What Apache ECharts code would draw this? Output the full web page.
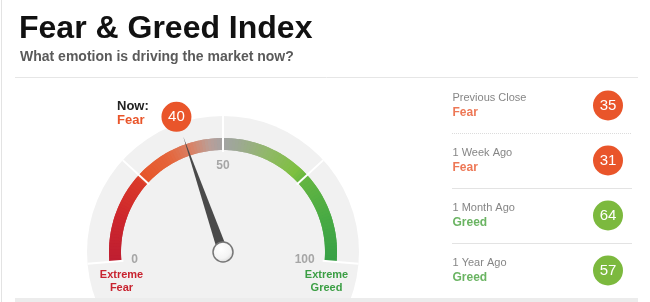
<!DOCTYPE html>
<html><head><meta charset="utf-8">
<script src="https://cdn.jsdelivr.net/npm/echarts@6/dist/echarts.min.js"></script>
<style>html,body{margin:0;padding:0;background:#fff}#c{width:650px;height:302px}</style>
</head><body><div id="c"></div>
<script>
// ---- data ----
const gaugeMin = 0;
const gaugeMax = 100;
const gaugeTicks = [0, 50, 100];
const nowValue = 40;
const nowRating = 'Fear';
const historyLabels = ['Previous Close', '1 Week Ago', '1 Month Ago', '1 Year Ago'];
const historyValues = [35, 31, 64, 57];
const historyRatings = ['Fear', 'Fear', 'Greed', 'Greed'];

// ---- styling ----
const FONT = '"Liberation Sans", Arial, Helvetica, sans-serif';
const FEAR_C = '#e9552a';
const GREED_TXT = '#45a13b';
const GREED_C = '#7cb93e';
const CX = 223, CY = 252, R = 114, START = 185, END = -5;

// band gradient stops (styling)
const bandStops = [[0,'#bf1e31'],[12,'#cd272d'],[24,'#da3a2a'],[25.5,'#e6572b'],[34,'#e5643a'],[41,'#d98266'],[46,'#bc9e96'],[50,'#a3a3a3'],[54,'#9ea895'],[62,'#92b76c'],[72,'#7ec040'],[75.5,'#64b542'],[88,'#48aa44'],[100,'#37a046']];
function hex(c){return [parseInt(c.substr(1,2),16),parseInt(c.substr(3,2),16),parseInt(c.substr(5,2),16)];}
function colAt(v){
  v = Math.max(0, Math.min(100, v));
  for (let i=0;i<bandStops.length-1;i++){
    const a=bandStops[i], b=bandStops[i+1];
    if (v>=a[0] && v<=b[0]){
      const t=(v-a[0])/(b[0]-a[0]); const ca=hex(a[1]), cb=hex(b[1]);
      return 'rgb('+ca.map((x,k)=>Math.round(x+(cb[k]-x)*t)).join(',')+')';
    }
  }
  return bandStops[bandStops.length-1][1];
}
const N = 120;
const bandColors = [];
for (let i=1;i<=N;i++){ bandColors.push([i/N, colAt((i-0.5)/N*100)]); }
// underlay with shifted segment boundaries (hides anti-alias seams)
const bandColors2 = [];
for (let i=1;i<=N;i++){ const e=Math.min(1,(i+0.5)/N); bandColors2.push([e, colAt(((i-0.5)/N)*100)]); }
bandColors2.push([1, colAt(100)]);

// bubble placement along the needle direction
const ang = (START - (nowValue - gaugeMin)/(gaugeMax - gaugeMin)*(START - END)) * Math.PI/180;
const bubbleR = 143;
const bubbleOffset = [bubbleR*Math.cos(ang), -bubbleR*Math.sin(ang)];

const chart = echarts.init(document.getElementById('c'), null, {renderer:'canvas'});

const graphics = [
  {type:'line', shape:{x1:1.5,y1:0,x2:1.5,y2:302}, style:{stroke:'#e3e3e3',lineWidth:1}},
  {type:'line', shape:{x1:15,y1:77.5,x2:638,y2:77.5}, style:{stroke:'#e6e6e6',lineWidth:1}},
  {type:'text', x:19, y:29, style:{text:'Fear & Greed Index', font:'bold 32px '+FONT, fill:'#111', verticalAlign:'middle', align:'left'}},
  {type:'text', x:20, y:57, style:{text:'What emotion is driving the market now?', font:'bold 14px '+FONT, fill:'#5a5a5a', verticalAlign:'middle', align:'left'}},
  {type:'circle', z:-10, shape:{cx:CX, cy:CY, r:136}, style:{fill:'#f1f1f1'}},
  {type:'rect', z:50, shape:{x:15,y:298,width:623,height:4}, style:{fill:'#ececec'}},
  {type:'text', x:117, y:106, style:{text:'Now:', font:'bold 13px '+FONT, fill:'#222', verticalAlign:'middle', align:'left'}},
  {type:'text', x:117, y:120.5, style:{text:nowRating, font:'bold 13px '+FONT, fill:FEAR_C, verticalAlign:'middle', align:'left'}},
  {type:'text', x:121.5, y:275, style:{text:'Extreme', font:'bold 11px '+FONT, fill:'#c8232f', verticalAlign:'middle', align:'center'}},
  {type:'text', x:121.5, y:288, style:{text:'Fear', font:'bold 11px '+FONT, fill:'#c8232f', verticalAlign:'middle', align:'center'}},
  {type:'text', x:326.5, y:275, style:{text:'Extreme', font:'bold 11px '+FONT, fill:'#3b9e44', verticalAlign:'middle', align:'center'}},
  {type:'text', x:326.5, y:288, style:{text:'Greed', font:'bold 11px '+FONT, fill:'#3b9e44', verticalAlign:'middle', align:'center'}},
  {type:'line', shape:{x1:452,y1:133.5,x2:632,y2:133.5}, style:{stroke:'#dcdcdc',lineWidth:1,lineDash:[1,1]}},
  {type:'line', shape:{x1:452,y1:188.5,x2:632,y2:188.5}, style:{stroke:'#e3e3e3',lineWidth:1}},
  {type:'line', shape:{x1:452,y1:243.5,x2:632,y2:243.5}, style:{stroke:'#e3e3e3',lineWidth:1}}
];

const option = {
  animation:false,
  graphic: graphics,
  grid:{left:452, top:78, width:156, height:220, show:false},
  xAxis:{type:'value', min:0, max:1, show:false},
  yAxis:{type:'category', data:historyLabels, inverse:true, show:false},
  series:[
    {
      type:'gauge', z:1, silent:true, center:[CX,CY], radius:R, startAngle:START, endAngle:END,
      min:gaugeMin, max:gaugeMax,
      axisLine:{show:true, lineStyle:{width:12, color:bandColors2}},
      splitLine:{show:false}, axisTick:{show:false}, axisLabel:{show:false},
      pointer:{show:false}, anchor:{show:false}, title:{show:false}, detail:{show:false},
      data:[{value:nowValue}]
    },
    {
      type:'gauge', z:2, center:[CX,CY], radius:R, startAngle:START, endAngle:END,
      min:gaugeMin, max:gaugeMax, splitNumber:4,
      axisLine:{show:true, lineStyle:{width:12, color:bandColors}},
      splitLine:{show:true, distance:-34, length:36, lineStyle:{color:'#fff', width:2}},
      axisTick:{show:false},
      axisLabel:{show:true, distance:20, color:'#a6a6a6', fontSize:12, fontWeight:'bold', fontFamily:FONT,
        formatter: v => gaugeTicks.indexOf(v) >= 0 ? String(v) : ''},
      pointer:{show:true, length:122, width:5, itemStyle:{color:'#4a4a4a'}},
      anchor:{show:true, showAbove:true, size:20,
        itemStyle:{color:{type:'radial', x:0.4, y:0.35, r:0.75, colorStops:[{offset:0,color:'#ffffff'},{offset:0.6,color:'#f4f4f4'},{offset:1,color:'#cfcfcf'}]}, borderColor:'#777', borderWidth:1.5}},
      title:{show:false},
      detail:{show:true, offsetCenter:bubbleOffset, width:30, height:30, lineHeight:30, padding:0,
        borderRadius:15, backgroundColor:FEAR_C, color:'#fff', fontSize:15, fontWeight:'normal', fontFamily:FONT,
        formatter:'{value}'},
      data:[{value:nowValue}]
    },
    {
      type:'scatter', symbolSize:1, itemStyle:{color:'transparent'}, silent:true,
      data: historyLabels.map((l,i)=>[0,l]),
      label:{show:true, position:'right', distance:0,
        formatter: p => '{a|'+historyLabels[p.dataIndex]+'}\n{'+(historyRatings[p.dataIndex]==='Fear'?'f':'g')+'|'+historyRatings[p.dataIndex]+'}',
        rich:{
          a:{fontSize:11, color:'#666', fontFamily:FONT, lineHeight:14.5},
          f:{fontSize:12, fontWeight:'bold', color:FEAR_C, fontFamily:FONT, lineHeight:14.5},
          g:{fontSize:12, fontWeight:'bold', color:GREED_TXT, fontFamily:FONT, lineHeight:14.5}
        }}
    },
    {
      type:'scatter', symbol:'circle', symbolSize:30, silent:true,
      data: historyLabels.map((l,i)=>[1,l]),
      itemStyle:{color: p => historyRatings[p.dataIndex]==='Fear' ? FEAR_C : GREED_C, opacity:1},
      label:{show:true, position:'inside', color:'#fff', fontSize:15, fontFamily:FONT,
        formatter: p => String(historyValues[p.dataIndex])}
    }
  ]
};
chart.setOption(option);
</script></body></html>
